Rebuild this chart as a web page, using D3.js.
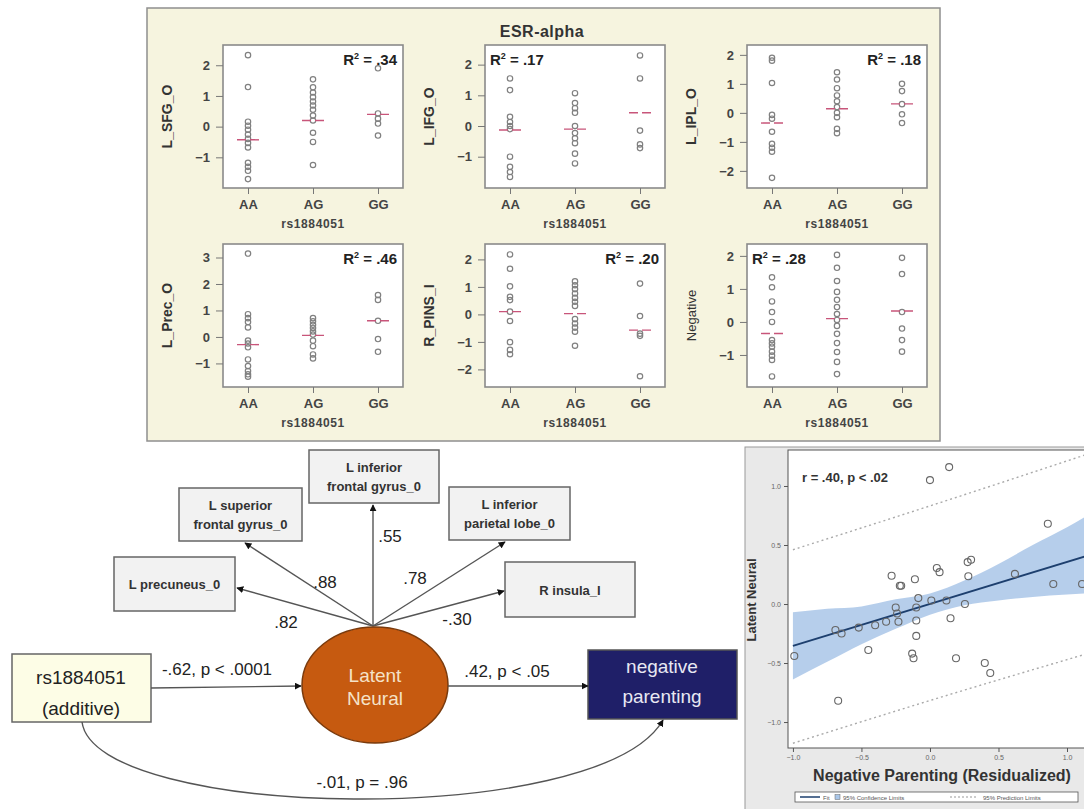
<!DOCTYPE html>
<html>
<head>
<meta charset="utf-8">
<script src="https://cdn.jsdelivr.net/npm/d3@7"></script>
<style>
  body { margin: 0; background: #fff; }
  text { font-family: "Liberation Sans", Arial, sans-serif; }
</style>
</head>
<body>
<script>
var w = 1084;
var h = 809;

// ---- top panel: ESR-alpha genotype strip plots ----
var genotypes = ["AA", "AG", "GG"];
var regionLabels = ["L_SFG_O", "L_IFG_O", "L_IPL_O", "L_Prec_O", "R_PINS_I", "Negative"];
var r2Labels = [".34", ".17", ".18", ".46", ".20", ".28"];
var yDomains = [[-2.0, 2.66], [-2.02, 2.64], [-2.59, 2.34], [-1.89, 3.51], [-2.64, 2.56], [-1.97, 2.36]];
var yTicks = [[-1, 0, 1, 2], [-1, 0, 1, 2], [-2, -1, 0, 1, 2], [-1, 0, 1, 2, 3], [-2, -1, 0, 1, 2], [-1, 0, 1, 2]];

var sfgO = [
  [2.33, 1.29, 0.16, 0.03, -0.1, -0.26, -0.4, -0.53, -0.68, -1.18, -1.31, -1.44, -1.71],
  [1.54, 1.28, 1.11, 0.96, 0.82, 0.69, 0.55, 0.36, 0.2, -0.2, -0.5, -1.25],
  [1.9, 0.43, 0.26, 0.1, -0.29]
];
var ifgO = [
  [1.55, 1.17, 0.3, 0.13, 0.0, -0.1, -1.0, -1.33, -1.5, -1.66],
  [1.07, 0.75, 0.58, 0.43, 0.0, -0.23, -0.4, -0.56, -0.9, -1.22],
  [2.3, 1.55, -0.15, -0.6, -0.72]
];
var iplO = [
  [1.9, 1.8, 1.03, -0.07, -0.2, -0.65, -1.07, -1.2, -1.34, -2.24],
  [1.4, 1.15, 0.85, 0.6, 0.4, 0.2, 0.0, -0.15, -0.55, -0.7],
  [1.0, 0.75, 0.3, -0.05, -0.35]
];
var precO = [
  [3.15, 0.86, 0.71, 0.56, 0.36, -0.14, -0.25, -0.39, -0.85, -1.1, -1.29, -1.41, -1.5],
  [0.71, 0.59, 0.46, 0.34, 0.21, 0.09, -0.14, -0.35, -0.66, -0.81],
  [1.58, 1.4, 0.61, -0.08, -0.56]
];
var pinsI = [
  [2.18, 1.66, 1.02, 0.64, 0.52, 0.1, -0.24, -1.01, -1.29, -1.45],
  [1.2, 1.06, 0.92, 0.76, 0.6, 0.46, 0.31, -0.17, -0.33, -0.48, -0.63, -1.14],
  [1.12, -0.06, -0.7, -0.78, -2.25]
];
var negativeP = [
  [1.35, 1.05, 0.62, 0.3, 0.0, -0.55, -0.65, -0.75, -0.9, -1.02, -1.15, -1.65],
  [2.03, 1.64, 1.24, 0.91, 0.67, 0.45, 0.24, 0.06, -0.12, -0.36, -0.64, -0.91, -1.21, -1.58],
  [1.94, 1.45, 0.3, -0.2, -0.55, -0.9]
];
var panelValues = [sfgO, ifgO, iplO, precO, pinsI, negativeP];
var groupMeans = [[-0.43, 0.2, 0.4], [-0.13, -0.1, 0.43], [-0.35, 0.14, 0.31],
                  [-0.29, 0.06, 0.61], [0.1, 0.03, -0.57], [-0.35, 0.1, 0.33]];

// ---- path model ----
var indicatorLabels = [["L precuneus_0"], ["L superior", "frontal gyrus_0"], ["L inferior", "frontal gyrus_0"],
                       ["L inferior", "parietal lobe_0"], ["R insula_I"]];
var loadings = [".82", ".88", ".55", ".78", "-.30"];
var pathLabels = ["-.62, p < .0001", ".42, p < .05", "-.01, p = .96"];

// ---- scatter: latent neural vs negative parenting ----
var parentingX = [-0.99, -0.69, -0.645, -0.67, -0.52, -0.45, -0.4, -0.32, -0.28, -0.25, -0.24, -0.23, -0.22, -0.21,
                  -0.11, -0.13, -0.12, -0.1, -0.1, -0.1, -0.085, 0.0, 0.01, 0.05, 0.07, 0.12, 0.14, 0.15, 0.19,
                  0.255, 0.275, 0.3, 0.28, 0.4, 0.44, 0.62, 0.86, 0.9, 1.11];
var latentY = [-0.44, -0.22, -0.25, -0.82, -0.2, -0.39, -0.18, -0.15, 0.24, -0.03, -0.08, -0.15, 0.155, 0.155,
               0.21, -0.42, -0.46, -0.14, -0.27, -0.03, 0.05, 1.05, 0.03, 0.305, 0.27, 0.03, 1.16, -0.12, -0.46,
               0.0, 0.355, 0.375, 0.235, -0.5, -0.585, 0.255, 0.68, 0.17, 0.17];
var fitX = [-1.0, 1.15];
var fitY = [-0.355, 0.41];
var ciX = [-1.0, -0.75, -0.5, -0.25, 0.0, 0.25, 0.5, 0.75, 1.0, 1.15];
var ciLo = [-0.64, -0.49, -0.34, -0.21, -0.09, -0.01, 0.03, 0.06, 0.08, 0.09];
var ciHi = [-0.07, -0.04, -0.02, 0.04, 0.09, 0.2, 0.34, 0.5, 0.65, 0.75];
var predX = [-1.0, 0.05, 1.15];
var predLo = [-1.18, -0.8, -0.42];
var predHi = [0.46, 0.85, 1.27];
var scatterTicks = [-1.0, -0.5, 0.0, 0.5, 1.0];

var svg = d3.select("body")
  .append("svg")
  .attr("width", w)
  .attr("height", h);

var defs = svg.append("defs");
defs.append("marker")
  .attr("id", "arrow")
  .attr("viewBox", "0 0 10 10")
  .attr("refX", 9).attr("refY", 5)
  .attr("markerWidth", 7).attr("markerHeight", 7)
  .attr("markerUnits", "userSpaceOnUse")
  .attr("orient", "auto")
  .append("path")
  .attr("d", "M0,0 L10,5 L0,10 z")
  .attr("fill", "#111");

// ================= top panel =================
svg.append("rect")
  .attr("x", 147).attr("y", 8)
  .attr("width", 793).attr("height", 433)
  .attr("fill", "#f6f4df")
  .attr("stroke", "#8f8f8f")
  .attr("stroke-width", 1.5);

svg.append("text")
  .attr("x", 542).attr("y", 37)
  .attr("text-anchor", "middle")
  .attr("font-size", "16px")
  .attr("letter-spacing", "0.5px")
  .attr("font-weight", "bold")
  .attr("fill", "#333")
  .text("ESR-alpha");

var colLeft = [223, 485, 747];
var rowTop = [45, 244];
var pw = 180, ph = 143;
var narrow = "'Liberation Sans Narrow', 'Arial Narrow', 'Liberation Sans', sans-serif";

panelValues.forEach(function(groups, i) {
  var left = colLeft[i % 3], top = rowTop[Math.floor(i / 3)];
  var g = svg.append("g");
  var x = d3.scalePoint().domain(genotypes).range([left + 25, left + 155]);
  var y = d3.scaleLinear().domain(yDomains[i]).range([top + ph, top]);

  g.append("rect")
    .attr("x", left).attr("y", top)
    .attr("width", pw).attr("height", ph)
    .attr("fill", "#fff")
    .attr("stroke", "#8a8a8a")
    .attr("stroke-width", 1.6);

  var ya = g.append("g")
    .attr("transform", "translate(" + left + ",0)")
    .call(d3.axisLeft(y).tickValues(yTicks[i]).tickSize(7).tickPadding(6).tickFormat(d3.format("d")));
  ya.select(".domain").remove();
  ya.selectAll("line").attr("stroke", "#777");
  ya.selectAll("text")
    .attr("font-size", "13px").attr("font-weight", "bold").attr("fill", "#444")
    .style("font-family", "'Liberation Sans', Arial, sans-serif");

  var xa = g.append("g")
    .attr("transform", "translate(0," + (top + ph) + ")")
    .call(d3.axisBottom(x).tickSize(6).tickPadding(6));
  xa.select(".domain").remove();
  xa.selectAll("line").attr("stroke", "#777");
  xa.selectAll("text")
    .attr("font-size", "13px").attr("font-weight", "bold").attr("fill", "#444")
    .style("font-family", "'Liberation Sans', Arial, sans-serif");

  g.append("text")
    .attr("x", left + 90).attr("y", top + ph + 40)
    .attr("text-anchor", "middle")
    .attr("font-size", "12px")
    .attr("letter-spacing", "0.6px")
    .attr("font-weight", "bold")
    .attr("fill", "#444")
    .text("rs1884051");

  var lx = left - 56, ly = top + ph / 2;
  g.append("text")
    .attr("transform", "translate(" + lx + "," + ly + ") rotate(-90)")
    .attr("text-anchor", "middle")
    .attr("dy", "0.35em")
    .style("font-family", narrow)
    .attr("font-size", i === 5 ? "13px" : "14px")
    .attr("font-weight", i === 5 ? "normal" : "bold")
    .attr("fill", "#333")
    .text(regionLabels[i]);

  groups.forEach(function(vals, k) {
    g.selectAll(null)
      .data(vals)
      .enter()
      .append("circle")
      .attr("cx", x(genotypes[k]))
      .attr("cy", function(d) { return y(d); })
      .attr("r", 2.7)
      .attr("fill", "none")
      .attr("stroke", "#808080")
      .attr("stroke-width", 1.2);
  });

  g.selectAll(null)
    .data(groupMeans[i])
    .enter()
    .append("line")
    .attr("x1", function(d, k) { return x(genotypes[k]) - 11; })
    .attr("x2", function(d, k) { return x(genotypes[k]) + 11; })
    .attr("y1", function(d) { return y(d); })
    .attr("y2", function(d) { return y(d); })
    .attr("stroke", "#c8557a")
    .attr("stroke-width", 1.4)
    .attr("stroke-dasharray", "9,4");

  var onLeft = (i === 1 || i === 5);
  var rt = g.append("text")
    .attr("x", onLeft ? left + 5 : left + pw - 6)
    .attr("y", top + 20)
    .attr("text-anchor", onLeft ? "start" : "end")
    .style("font-family", narrow)
    .attr("font-size", "15px")
    .attr("font-weight", "bold")
    .attr("fill", "#222");
  rt.append("tspan").text("R");
  rt.append("tspan").attr("font-size", "9px").attr("dy", -6).text("2");
  rt.append("tspan").attr("dy", 6).text(" = " + r2Labels[i]);
});

// ================= path model =================
var boxLayout = [
  { x: 114, y: 557, w: 121, h: 54 },
  { x: 179, y: 488, w: 123, h: 53 },
  { x: 309, y: 450, w: 130, h: 53 },
  { x: 449, y: 487, w: 121, h: 53 },
  { x: 505, y: 562, w: 130, h: 55 }
];
var arrowEnds = [[237, 588], [245, 543], [373, 505], [505, 542], [504, 591]];
var loadingPos = [[286, 628], [325, 588], [390, 542], [415, 584], [457, 625]];
var apex = [373, 626];

var pm = svg.append("g");

indicatorLabels.forEach(function(lines, i) {
  var b = boxLayout[i];
  pm.append("rect")
    .attr("x", b.x).attr("y", b.y).attr("width", b.w).attr("height", b.h)
    .attr("fill", "#f2f2f2").attr("stroke", "#666").attr("stroke-width", 1.5);
  lines.forEach(function(t, j) {
    pm.append("text")
      .attr("x", b.x + b.w / 2)
      .attr("y", b.y + b.h / 2 + 5 + (j - (lines.length - 1) / 2) * 19)
      .attr("text-anchor", "middle")
      .attr("font-size", "13px")
      .attr("font-weight", "bold")
      .attr("fill", "#333")
      .text(t);
  });
  pm.append("line")
    .attr("x1", apex[0]).attr("y1", apex[1])
    .attr("x2", arrowEnds[i][0]).attr("y2", arrowEnds[i][1])
    .attr("stroke", "#555").attr("stroke-width", 1.4)
    .attr("marker-end", "url(#arrow)");
  pm.append("text")
    .attr("x", loadingPos[i][0]).attr("y", loadingPos[i][1])
    .attr("text-anchor", "middle")
    .attr("font-size", "17px")
    .attr("fill", "#222")
    .text(loadings[i]);
});

// rs1884051 box
pm.append("rect")
  .attr("x", 12).attr("y", 654).attr("width", 139).attr("height", 68)
  .attr("fill", "#fdfde6").attr("stroke", "#666").attr("stroke-width", 1.5);
pm.append("text").attr("x", 81).attr("y", 684).attr("text-anchor", "middle")
  .attr("font-size", "19px").attr("fill", "#222").text("rs1884051");
pm.append("text").attr("x", 81).attr("y", 715).attr("text-anchor", "middle")
  .attr("font-size", "19px").attr("fill", "#222").text("(additive)");

// latent ellipse
pm.append("ellipse")
  .attr("cx", 375).attr("cy", 685).attr("rx", 73).attr("ry", 58)
  .attr("fill", "#c65a10").attr("stroke", "#7a3a0c").attr("stroke-width", 1.5);
pm.append("text").attr("x", 375).attr("y", 682).attr("text-anchor", "middle")
  .attr("font-size", "19px").attr("fill", "#f5e2c8").text("Latent");
pm.append("text").attr("x", 375).attr("y", 705).attr("text-anchor", "middle")
  .attr("font-size", "19px").attr("fill", "#f5e2c8").text("Neural");

// negative parenting box
pm.append("rect")
  .attr("x", 588).attr("y", 650).attr("width", 149).attr("height", 69)
  .attr("fill", "#1f1f68").attr("stroke", "#555").attr("stroke-width", 1.5);
pm.append("text").attr("x", 662).attr("y", 673).attr("text-anchor", "middle")
  .attr("font-size", "19px").attr("fill", "#e8e8f2").text("negative");
pm.append("text").attr("x", 662).attr("y", 703).attr("text-anchor", "middle")
  .attr("font-size", "19px").attr("fill", "#e8e8f2").text("parenting");

// structural paths
pm.append("line")
  .attr("x1", 151).attr("y1", 688).attr("x2", 301).attr("y2", 686)
  .attr("stroke", "#555").attr("stroke-width", 1.4).attr("marker-end", "url(#arrow)");
pm.append("line")
  .attr("x1", 448).attr("y1", 686).attr("x2", 588).attr("y2", 686)
  .attr("stroke", "#555").attr("stroke-width", 1.4).attr("marker-end", "url(#arrow)");
pm.append("path")
  .attr("d", "M82,722 C95,820 600,830 663,720")
  .attr("fill", "none")
  .attr("stroke", "#555").attr("stroke-width", 1.4).attr("marker-end", "url(#arrow)");

var pathPos = [[217, 675], [507, 677], [362, 788]];
pathLabels.forEach(function(t, i) {
  pm.append("text")
    .attr("x", pathPos[i][0]).attr("y", pathPos[i][1])
    .attr("text-anchor", "middle")
    .attr("font-size", "17px")
    .attr("fill", "#222")
    .text(t);
});

// ================= scatter =================
var sc = svg.append("g");
sc.append("rect")
  .attr("x", 745).attr("y", 447).attr("width", 345).attr("height", 365)
  .attr("fill", "#e9e9e9").attr("stroke", "#999");

var sx = d3.scaleLinear().domain([-1.036, 1.124]).range([788, 1084]);
var sy = d3.scaleLinear().domain([-1.22, 1.305]).range([748, 450]);

defs.append("clipPath").attr("id", "plotclip")
  .append("rect").attr("x", 788).attr("y", 450).attr("width", 296).attr("height", 298);

sc.append("rect")
  .attr("x", 788).attr("y", 450).attr("width", 300).attr("height", 298)
  .attr("fill", "#fff").attr("stroke", "#555").attr("stroke-width", 1);

var plot = sc.append("g").attr("clip-path", "url(#plotclip)");

plot.append("path")
  .datum(ciX)
  .attr("d", d3.area()
    .x(function(d) { return sx(d); })
    .y0(function(d, i) { return sy(ciLo[i]); })
    .y1(function(d, i) { return sy(ciHi[i]); })
    .curve(d3.curveMonotoneX))
  .attr("fill", "#a9c6e8")
  .attr("opacity", 0.85);

[predLo, predHi].forEach(function(arr) {
  plot.append("path")
    .datum(predX)
    .attr("d", d3.line()
      .x(function(d) { return sx(d); })
      .y(function(d, i) { return sy(arr[i]); })
      .curve(d3.curveMonotoneX))
    .attr("fill", "none")
    .attr("stroke", "#aaa")
    .attr("stroke-width", 1.4)
    .attr("stroke-dasharray", "2,3");
});

plot.append("line")
  .attr("x1", sx(fitX[0])).attr("y1", sy(fitY[0]))
  .attr("x2", sx(fitX[1])).attr("y2", sy(fitY[1]))
  .attr("stroke", "#1d3f6e").attr("stroke-width", 2);

plot.selectAll(null)
  .data(parentingX)
  .enter()
  .append("circle")
  .attr("cx", function(d) { return sx(d); })
  .attr("cy", function(d, i) { return sy(latentY[i]); })
  .attr("r", 3.5)
  .attr("fill", "none")
  .attr("stroke", "#666")
  .attr("stroke-width", 1.1);

var sxa = sc.append("g")
  .attr("transform", "translate(0,748)")
  .call(d3.axisBottom(sx).tickValues(scatterTicks).tickSize(4).tickFormat(d3.format(".1f")));
sxa.select(".domain").remove();
sxa.selectAll("line").attr("stroke", "#555");
sxa.selectAll("text").attr("font-size", "7px").attr("fill", "#666");

var sya = sc.append("g")
  .attr("transform", "translate(788,0)")
  .call(d3.axisLeft(sy).tickValues(scatterTicks).tickSize(4).tickFormat(d3.format(".1f")));
sya.select(".domain").remove();
sya.selectAll("line").attr("stroke", "#555");
sya.selectAll("text").attr("font-size", "7px").attr("fill", "#666");

sc.append("text")
  .attr("x", 802).attr("y", 482)
  .attr("font-size", "13px").attr("font-weight", "bold").attr("fill", "#333")
  .style("font-family", narrow)
  .text("r = .40, p < .02");

sc.append("text")
  .attr("transform", "translate(756,600) rotate(-90)")
  .attr("text-anchor", "middle")
  .attr("font-size", "13px").attr("font-weight", "bold").attr("fill", "#333")
  .style("font-family", narrow)
  .text("Latent Neural");

sc.append("text")
  .attr("x", 942).attr("y", 781)
  .attr("text-anchor", "middle")
  .attr("font-size", "16px").attr("font-weight", "bold").attr("fill", "#333")
  .style("font-family", narrow)
  .text("Negative Parenting (Residualized)");

// legend
var lg = sc.append("g");
lg.append("rect").attr("x", 795).attr("y", 792).attr("width", 283).attr("height", 10)
  .attr("fill", "#fff").attr("stroke", "#555").attr("stroke-width", 0.8);
lg.append("line").attr("x1", 800).attr("x2", 820).attr("y1", 797).attr("y2", 797)
  .attr("stroke", "#1d3f6e").attr("stroke-width", 1.5);
lg.append("text").attr("x", 823).attr("y", 799.5).attr("font-size", "6px").attr("fill", "#555").text("Fit");
lg.append("rect").attr("x", 835).attr("y", 794.5).attr("width", 5).attr("height", 5)
  .attr("fill", "#a9c6e8").attr("stroke", "#666").attr("stroke-width", 0.5);
lg.append("text").attr("x", 843).attr("y", 799.5).attr("font-size", "6px").attr("fill", "#555").text("95% Confidence Limits");
lg.append("line").attr("x1", 950).attr("x2", 978).attr("y1", 797).attr("y2", 797)
  .attr("stroke", "#999").attr("stroke-width", 1).attr("stroke-dasharray", "2,2");
lg.append("text").attr("x", 983).attr("y", 799.5).attr("font-size", "6px").attr("fill", "#555").text("95% Prediction Limits");
</script>
</body>
</html>
